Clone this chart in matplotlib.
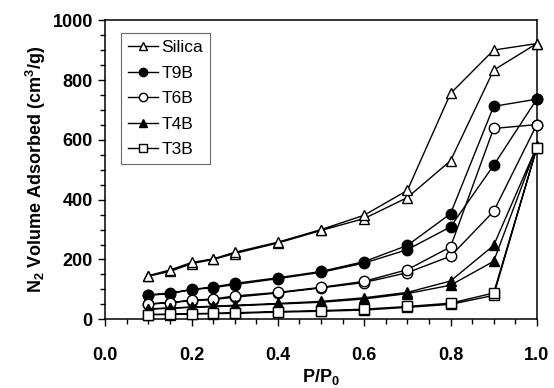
import matplotlib
matplotlib.use("Agg")
import matplotlib.pyplot as plt
from matplotlib.ticker import MultipleLocator

plt.rcParams['font.family'] = ['Liberation Sans', 'DejaVu Sans']
plt.rcParams['mathtext.fontset'] = 'custom'
plt.rcParams['mathtext.rm'] = 'Liberation Sans:bold'
plt.rcParams['mathtext.it'] = 'Liberation Sans:bold'
plt.rcParams['mathtext.bf'] = 'Liberation Sans:bold'

# relative pressure, adsorption branch then desorption branch back down
p_ads = [0.1, 0.15, 0.2, 0.25, 0.3, 0.4, 0.5, 0.6, 0.7, 0.8, 0.9, 1.0]
p_des = [1.0, 0.9, 0.8, 0.7, 0.6, 0.5, 0.4, 0.3, 0.25, 0.2, 0.15, 0.1]

silica_ads = [144, 160, 186, 200, 220, 255, 297, 337, 407, 530, 833, 922]
silica_des = [922, 900, 755, 431, 348, 300, 258, 224, 202, 190, 165, 146]
t9b_ads = [80, 86, 99, 106, 116, 136, 157, 188, 233, 309, 515, 736]
t9b_des = [736, 712, 353, 247, 193, 160, 139, 120, 108, 100, 88, 82]
t6b_ads = [50, 56, 62, 66, 74, 88, 105, 123, 156, 211, 361, 651]
t6b_des = [651, 638, 242, 166, 127, 107, 90, 78, 68, 64, 56, 52]
t4b_ads = [34, 37, 40, 42, 45, 51, 57, 68, 86, 114, 194, 578]
t4b_des = [578, 247, 128, 90, 72, 60, 53, 47, 44, 41, 38, 35]
t3b_ads = [16, 16, 18, 19, 20, 24, 27, 31, 40, 50, 80, 573]
t3b_des = [573, 88, 54, 43, 34, 29, 26, 22, 20, 19, 17, 16]

series = [
    ('Silica', silica_ads, silica_des, '^', 'white'),
    ('T9B', t9b_ads, t9b_des, 'o', 'black'),
    ('T6B', t6b_ads, t6b_des, 'o', 'white'),
    ('T4B', t4b_ads, t4b_des, '^', 'black'),
    ('T3B', t3b_ads, t3b_des, 's', 'white'),
]

fig = plt.figure(figsize=(5.54, 3.88), dpi=100)
ax = fig.add_axes([0.19, 0.177, 0.779, 0.771])

for name, ads, des, mk, fc in series:
    ax.plot(p_ads + p_des, ads + des, color='black', lw=1, marker=mk,
            markersize=7.5, markerfacecolor=fc, markeredgecolor='black',
            markeredgewidth=1, label=name, clip_on=False, zorder=3)

ax.set_xlim(0, 1.0)
ax.set_ylim(0, 1000)
ax.xaxis.set_major_locator(MultipleLocator(0.2))
ax.xaxis.set_minor_locator(MultipleLocator(0.05))
ax.yaxis.set_major_locator(MultipleLocator(200))
ax.yaxis.set_minor_locator(MultipleLocator(50))
ax.tick_params(which='both', direction='out', width=1)
ax.tick_params(which='major', length=5, labelsize=13)
ax.tick_params(which='minor', length=3.5)
ax.tick_params(axis='x', which='major', pad=15)
ax.tick_params(axis='y', which='major', pad=4)
for lab in ax.get_yticklabels():
    lab.set_fontweight('bold')
ax.set_xticks([0, 0.2, 0.4, 0.6, 0.8, 1.0])
ax.set_xticklabels(['0.0', '0.2', '0.4', '0.6', '0.8', '1.0'], fontweight='bold')
for s in ax.spines.values():
    s.set_linewidth(1.1)

ax.set_xlabel('P/P$_0$', fontsize=13, fontweight='bold', labelpad=2)
ax.set_ylabel('N$_2$ Volume Adsorbed (cm$^3$/g)', fontsize=13,
              fontweight='bold', labelpad=3)

leg = ax.legend(loc='upper left', bbox_to_anchor=(0.037, 0.957),
                borderaxespad=0, fontsize=12.5, handlelength=1.7,
                handletextpad=0.2, labelspacing=0.6, borderpad=0.4,
                markerscale=0.8, fancybox=False, edgecolor='#444444')
leg.get_frame().set_linewidth(0.8)

fig.savefig('out.png', dpi=100)
